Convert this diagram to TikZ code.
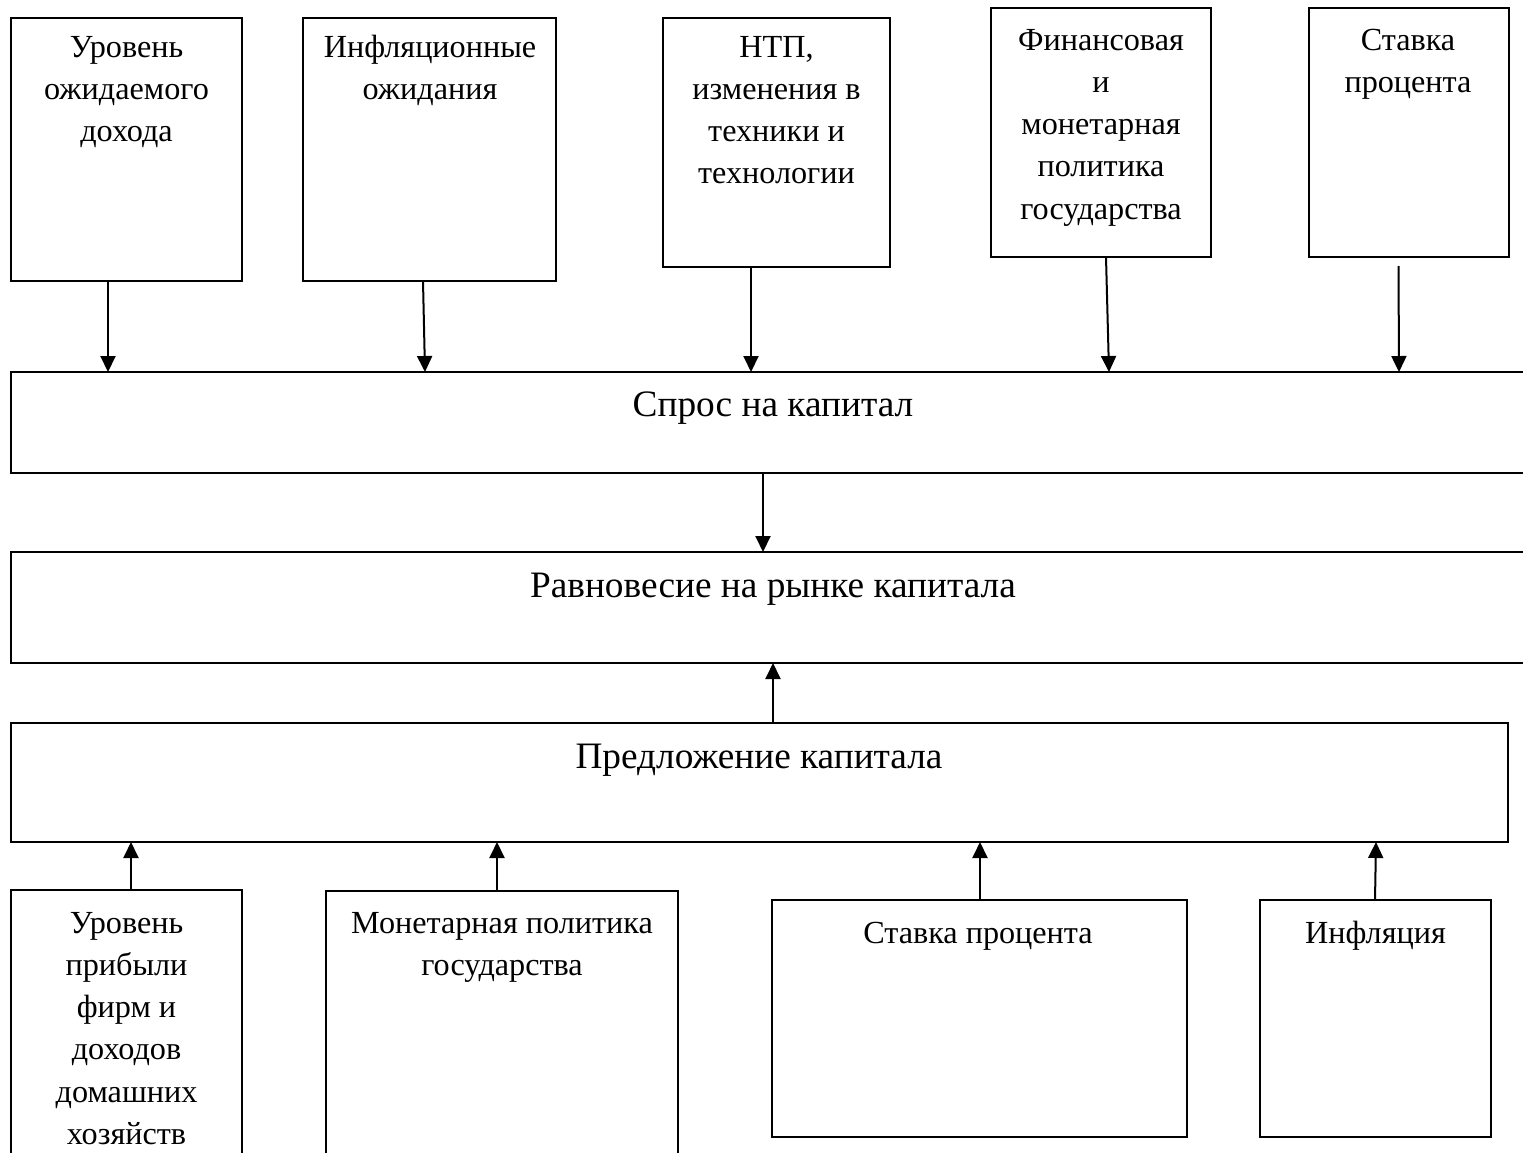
\documentclass[tikz,border=0pt]{standalone}
\usepackage{fontspec}
\setmainfont{Liberation Serif}
\usetikzlibrary{arrows.meta}
\newcommand{\fs}{\fontsize{32.2pt}{42.3pt}\selectfont}
\newcommand{\fb}{\fontsize{37.3pt}{44pt}\selectfont}
\newcommand{\tl}{\rule{0pt}{32pt}}
\begin{document}
\begin{tikzpicture}[x=1pt,y=-1pt,
  box/.style={draw=black,line width=1.8pt,rectangle,inner sep=0pt,outer sep=0pt,anchor=north west,fill=none},
  txt/.style={align=center,inner sep=0pt,outer sep=0pt,anchor=north,font=\fs},
  big/.style={inner sep=0pt,outer sep=0pt,anchor=base,font=\fb},
  arr/.style={line width=2pt,-{Triangle[length=16pt,width=15pt]}}]
\useasboundingbox (0,0) rectangle (1523,1152);
\fill[white] (0,0) rectangle (1523,1152);
\clip (0,0) rectangle (1523,1152);
% top row boxes
\node[box,minimum width=231pt,minimum height=263pt] (a1) at (11,18) {};
\node[box,minimum width=253pt,minimum height=263pt] (a2) at (303,18) {};
\node[box,minimum width=227pt,minimum height=249pt] (a3) at (663,18) {};
\node[box,minimum width=220pt,minimum height=249pt] (a4) at (991,8) {};
\node[box,minimum width=200pt,minimum height=249pt] (a5) at (1309,8) {};
\node[txt] (t1) at (126.5,25) {\tl Уровень\\ожидаемого\\дохода};
\node[txt] (t2) at (430,25) {\tl Инфляционные\\ожидания};
\node[txt] (t3) at (776.5,25) {\tl НТП,\\изменения в\\техники и\\технологии};
\node[txt] (t4) at (1101,18) {\tl Финансовая\\и\\монетарная\\политика\\государства};
\node[txt] (t5) at (1408,18) {\tl Ставка\\процента};
% wide boxes
\node[box,minimum width=1529pt,minimum height=101pt] (spros) at (11,372) {};
\node[box,minimum width=1529pt,minimum height=111pt] (ravn) at (11,552) {};
\node[box,minimum width=1497pt,minimum height=119pt] (pred) at (11,723) {};
\node[big] (ts) at (773,416) {Спрос на капитал};
\node[big] (tr) at (773,597) {Равновесие на рынке капитала};
\node[big] (tp) at (759,768) {Предложение капитала};
% bottom row boxes
\node[box,minimum width=231pt,minimum height=290pt] (b1) at (11,890) {};
\node[box,minimum width=352pt,minimum height=290pt] (b2) at (326,891) {};
\node[box,minimum width=415pt,minimum height=237pt] (b3) at (772,900) {};
\node[box,minimum width=231pt,minimum height=237pt] (b4) at (1260,900) {};
\node[txt] (u1) at (126.5,901) {\tl Уровень\\прибыли\\фирм и\\доходов\\домашних\\хозяйств};
\node[txt] (u2) at (502,901) {\tl Монетарная политика\\государства};
\node[txt] (u3) at (978,911) {\tl Ставка процента};
\node[txt] (u4) at (1375.5,911) {\tl Инфляция};
% arrows top
\coordinate (c5) at ([xshift=-10.5pt,yshift=-9pt]a5.south);
\draw[arr] ([xshift=-18.5pt]a1.south) -- ([xshift=97pt]spros.north west);
\draw[arr] ([xshift=-6.5pt]a2.south) -- ([xshift=414pt]spros.north west);
\draw[arr] ([xshift=-25.5pt]a3.south) -- ([xshift=740pt]spros.north west);
\draw[arr] ([xshift=5pt]a4.south) -- ([xshift=1098pt]spros.north west);
\draw[arr] (c5) -- ([xshift=1388pt]spros.north west);
% middle arrows
\draw[arr] ([xshift=752pt]spros.south west) -- ([xshift=752pt]ravn.north west);
\draw[arr] ([xshift=762pt]pred.north west) -- ([xshift=762pt]ravn.south west);
% bottom arrows
\draw[arr] ([xshift=120pt]b1.north west) -- ([xshift=120pt]pred.south west);
\draw[arr] ([xshift=171pt]b2.north west) -- ([xshift=486pt]pred.south west);
\draw[arr] ([xshift=208pt]b3.north west) -- ([xshift=969pt]pred.south west);
\draw[arr] ([xshift=115pt]b4.north west) -- ([xshift=1365pt]pred.south west);
\end{tikzpicture}
\end{document}
